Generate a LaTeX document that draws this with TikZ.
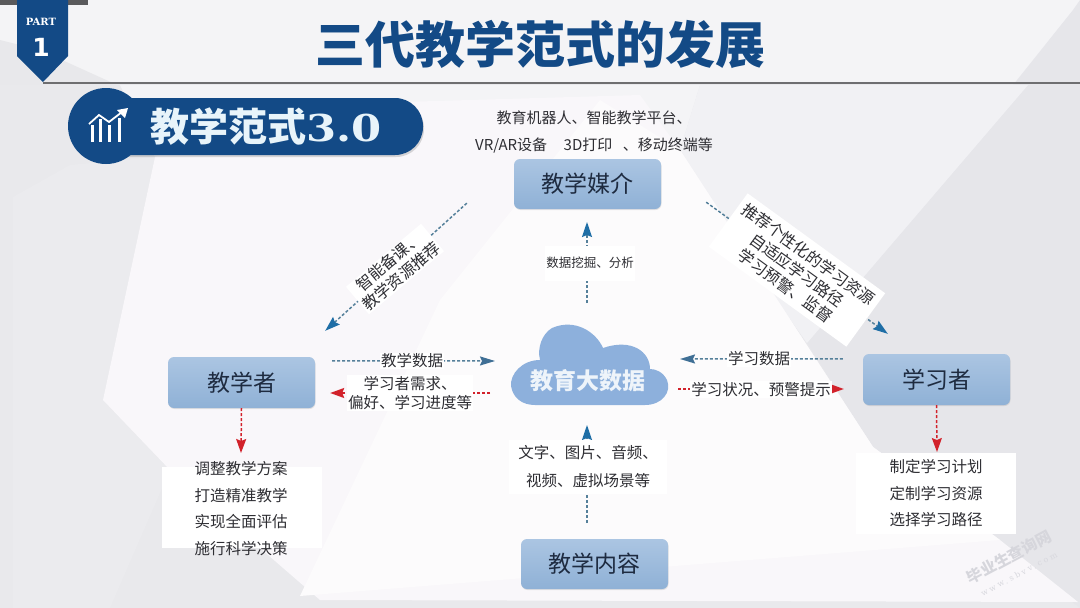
\documentclass[tikz,border=0pt]{standalone}
\usepackage{fontspec}
\usetikzlibrary{arrows.meta,calc,shadows,fadings}
\setmainfont{Noto Sans CJK SC}
\newfontfamily\serifb{DejaVu Serif}
\newfontfamily\sansb{DejaVu Sans}
\definecolor{navy}{HTML}{134A86}
\definecolor{boxtop}{HTML}{ABC5E2}
\definecolor{boxbot}{HTML}{8FB1D6}
\definecolor{cloudc}{HTML}{8DB0DC}
\definecolor{txt}{HTML}{2E2E33}
\definecolor{boxtxt}{HTML}{1E2B40}
\definecolor{dashblue}{HTML}{55809A}
\definecolor{tipblue}{HTML}{1F6EA6}
\definecolor{tipsteel}{HTML}{3F6F95}
\definecolor{redc}{HTML}{D2222B}
\definecolor{bgbase}{HTML}{E9E9EC}
\definecolor{bgtop}{HTML}{F4F4F6}
\definecolor{bgleft}{HTML}{EBEBEE}
\definecolor{bgcorner}{HTML}{E8E8EB}
\definecolor{bgright}{HTML}{E6E6EA}
\definecolor{bgmid}{HTML}{F1F1F4}
\definecolor{bgcentre}{HTML}{F9F7FA}
\definecolor{bgwhite}{HTML}{FCFBFC}
\tikzset{
  x=1pt,y=-1pt,
  rolebox/.style={minimum width=147pt,minimum height=50pt,rounded corners=6pt,inner sep=0pt,
    top color=boxtop,bottom color=boxbot,font=\fontsize{23}{26}\selectfont,text=boxtxt,
    drop shadow={shadow xshift=0.5pt,shadow yshift=-1pt,opacity=.2}},
  listback/.style={fill=white,inner sep=0pt},
  listtext/.style={inner sep=0pt,text=txt,align=center,font=\fontsize{15.5}{26.5}\selectfont},
  lab/.style={fill=white,inner sep=1pt,text=txt,align=center,font=\fontsize{15.5}{19}\selectfont},
  plain/.style={inner sep=0pt,text=txt,align=center},
  bluearrow/.style={draw=dashblue,line width=1.5pt,dash pattern=on 3pt off 2pt,
    -{Stealth[length=15pt,width=10pt,inset=2pt,color=tipblue,fill=tipblue]}},
  steelarrow/.style={draw=dashblue,line width=1.5pt,dash pattern=on 3pt off 2pt,
    -{Stealth[length=15pt,width=9pt,inset=2pt,color=tipsteel,fill=tipsteel]}},
  redarrow/.style={draw=redc,line width=1.5pt,dash pattern=on 3pt off 2pt,
    -{Stealth[length=14pt,width=10pt,inset=2pt,color=redc,fill=redc]}},
}
\begin{document}
\begin{tikzpicture}
\useasboundingbox (0,0) rectangle (1080,608);
% background
\fill[bgbase] (0,0) rectangle (1080,608);
\fill[bgtop] (0,0) rectangle (1080,84);
\fill[bgcorner] (0,40) -- (40,50) -- (115,84) -- (0,84) -- cycle;
\fill[bgleft] (13,197) -- (70,165) -- (155,157) -- (103,400) -- (170,470) -- (110,608) -- (13,608) -- cycle;
\fill[bgtop] (120,85) -- (700,85) -- (680,150) -- (155,157) -- cycle;
\fill[bgright] (1073,10) -- (1080,0) -- (1080,608) -- (1000,545) -- (873,447) -- (807,343) -- cycle;
\fill[bgmid] (680,150) -- (700,85) -- (1028,85) -- (807,343) -- (780,305) -- cycle;
\fill[bgcentre] (155,157) -- (300,105) -- (640,95) -- (680,150) -- (873,447) -- (1000,540) -- (1078,602) -- (320,600) -- (170,470) -- (103,400) -- cycle;
\fill[bgwhite] (680,150) -- (873,447) -- (1000,540) -- (300,596) -- (440,300) -- (600,100) -- cycle;
% header
\fill[color={rgb,255:red,90;green,90;blue,92}] (0,0) rectangle (88,5);
\draw[color={rgb,255:red,110;green,110;blue,112},line width=2pt] (43,83) -- (1080,83);
\fill[navy] (17,0) -- (68,0) -- (68,56) -- (43,82) -- (17,56) -- cycle;
\node[text=white,inner sep=0pt,font=\serifb\bfseries\fontsize{10}{10}\selectfont] (part) at (41,22) {PART};
\node[text=white,inner sep=0pt,font=\sansb\bfseries\fontsize{25}{25}\selectfont] (one) at (41,47) {1};
\node[text=navy,inner sep=0pt,font=\bfseries\fontsize{50}{51}\selectfont] (title) at (540,44) {三代教学范式的发展};
% pill
\fill[navy,rounded corners=28pt,drop shadow={shadow xshift=1pt,shadow yshift=-2pt,opacity=.3}] (100,98) rectangle (423,155);
\fill[navy] (106,126) circle[radius=38];
% icon
\begin{scope}[white]
\draw[line width=3pt] (92,142) -- (92,125);
\draw[line width=3pt] (100,142) -- (100,119);
\draw[line width=3pt] (109,142) -- (109,125);
\draw[line width=3pt] (119,142) -- (119,118);
\draw[line width=1.8pt] (89,124) -- (99,115) -- (109,122) -- (122,112);
\fill (128,108) -- (117,110) -- (125,118) -- cycle;
\end{scope}
\node[text={rgb,255:red,232;green,244;blue,250},inner sep=0pt,anchor=west,font=\bfseries\fontsize{39}{40}\selectfont] (sub) at (150,127) {教学范式\serifb\bfseries\fontsize{37}{40}\selectfont\scalebox{1.17}[1]{3.0}};
% main nodes
\node[rolebox] (media) at (587.5,184) {教学媒介};
\node[rolebox,minimum height=51pt] (teacher) at (241.5,382.5) {教学者};
\node[rolebox,minimum height=51pt] (learner) at (936.5,379.5) {学习者};
\node[rolebox] (content) at (594.5,564) {教学内容};
% cloud
\fill[cloudc] (535,405) -- (645,405)
  .. controls (662,405) and (672,392) .. (667,380)
  .. controls (663,372) and (656,369) .. (650,369)
  .. controls (650,352) and (632,338) .. (603,348)
  .. controls (596,332) and (575,318) .. (552,328)
  .. controls (542,334) and (537,348) .. (540,360)
  .. controls (522,360) and (510,374) .. (511,386)
  .. controls (513,398) and (522,405) .. (535,405) -- cycle;
\node[text={rgb,255:red,238;green,244;blue,250},inner sep=0pt,font=\bfseries\fontsize{23}{25}\selectfont] (cloud) at (588,381) {教育大数据};
% top text
\node[plain,font=\fontsize{15}{27}\selectfont] (mediatext) at (594,132) {教育机器人、智能教学平台、\\VR/AR设备\hspace{1.1em}3D打印\hspace{0.7em}、移动终端等};
% lists
\node[listback,minimum width=160pt,minimum height=81pt] (tback) at (242,507.5) {};
\node[listback,minimum width=160pt,minimum height=81pt] (lback) at (936,493.5) {};
\node[listtext] (tlist) at (241,508.5) {调整教学方案\\打造精准教学\\实现全面评估\\施行科学决策};
\node[listtext] (llist) at (936,493.5) {制定学习计划\\定制学习资源\\选择学习路径};
% anchors for free ends
\coordinate (m1) at ($(media.south west)+(-47,-6)$);
\coordinate (t1) at ($(teacher.north east)+(10,-26)$);
\coordinate (m2) at ($(media.south east)+(45,-7)$);
\coordinate (l1) at ($(learner.north west)+(25,-20)$);
\coordinate (ta) at ($(teacher.north east)+(17,4)$);
\coordinate (ca) at (495,361);
\coordinate (cb) at (490,393);
\coordinate (tb) at ($(teacher.east)+(15,10.5)$);
\coordinate (la) at ($(learner.north west)+(-20,5)$);
\coordinate (cc) at (680,359);
\coordinate (cd) at (678,389);
\coordinate (lb) at ($(learner.west)+(-19,9.5)$);
\coordinate (cup) at (587,303);
\coordinate (mdn) at (587,222);
\coordinate (cdn) at (587,425);
\coordinate (ctop) at (587,523);
\coordinate (tdn) at (241,453);
\coordinate (ldn) at (937,452);
% connectors
\draw[bluearrow] (m1) -- (t1);
\draw[bluearrow] (m2) -- (l1);
\draw[steelarrow] (ta) -- (ca);
\draw[redarrow] (cb) -- (tb);
\draw[steelarrow] (la) -- (cc);
\draw[redarrow] (cd) -- (lb);
\draw[bluearrow] (cup) -- (mdn);
\draw[bluearrow] (ctop) -- (cdn);
\draw[redarrow] (teacher.south) -- (tdn);
\draw[redarrow] (learner.south) -- (ldn);
% labels
\node[lab,fill=white,minimum width=158pt,minimum height=54pt,font=\fontsize{15.5}{28}\selectfont] (ctext) at (588,467) {文字、图片、音频、\\视频、虚拟场景等};
\node[lab,rotate=40,font=\fontsize{16}{19}\selectfont] (lab1) at (395,269) {智能备课、\\教学资源推荐};
\node[lab,rotate=-36,font=\fontsize{16}{19.5}\selectfont,minimum width=170pt,minimum height=66pt] (lab2) at (797,270) {推荐个性化的学习资源\\自适应学习路径\\学习预警、监督};
\node[lab] (lab3) at (412,361) {教学数据};
\node[lab,font=\fontsize{15.5}{19.5}\selectfont] (lab4) at (410,393) {学习者需求、\\偏好、学习进度等};
\node[lab] (lab5) at (759,359) {学习数据};
\node[lab] (lab6) at (761,389.5) {学习状况、预警提示};
\node[lab,font=\fontsize{12.5}{14}\selectfont,minimum height=35pt] (lab7) at (590,263) {数据挖掘、分析};
% watermark
\node[rotate=28,text={rgb,255:red,214;green,214;blue,220},inner sep=0pt,font=\bfseries\fontsize{15.5}{16}\selectfont] (wm1) at (1009,557) {毕业生查询网};
\node[rotate=28,text={rgb,255:red,216;green,216;blue,222},inner sep=0pt,font=\serifb\fontsize{8}{8}\selectfont\addfontfeature{LetterSpace=30}] (wm2) at (1019,574) {www.sbvv.com};
\end{tikzpicture}
\end{document}
